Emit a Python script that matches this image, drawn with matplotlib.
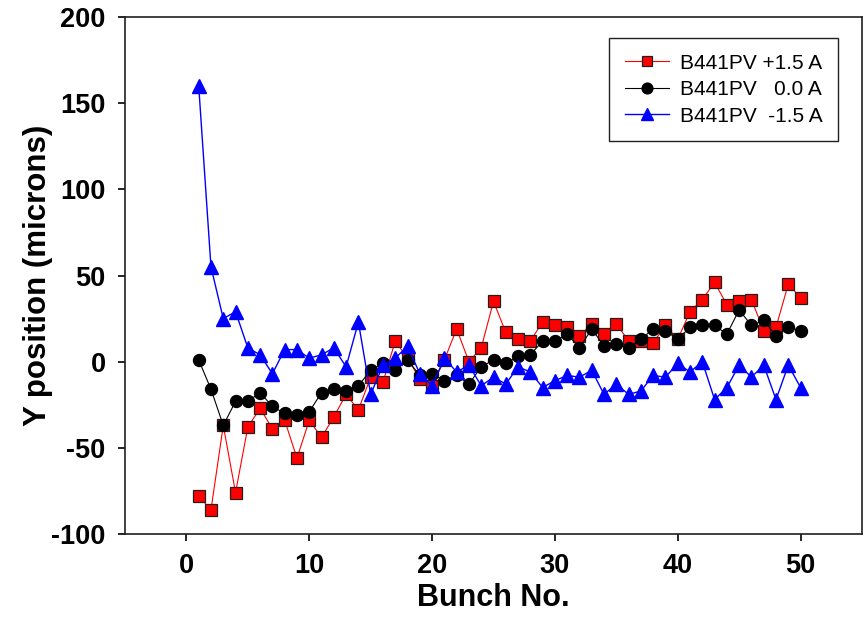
import matplotlib
matplotlib.use("Agg")
import matplotlib.pyplot as plt

# Bunch-by-bunch vertical position for three corrector settings
bunch = list(range(1, 51))

y_plus = [-78, -86, -37, -76, -38, -27, -39, -34, -56, -34,
          -44, -32, -19, -28, -9, -12, 12, 2, -10, -14,
          1, 19, 0, 8, 35, 17, 13, 12, 23, 21,
          20, 15, 22, 16, 22, 12, 12, 11, 21, 13,
          29, 36, 46, 33, 35, 36, 18, 20, 45, 37]

y_zero = [1, -16, -37, -23, -23, -18, -26, -30, -31, -29,
          -18, -16, -17, -14, -5, -1, -5, 1, -8, -7,
          -11, -8, -13, -3, 1, -1, 3, 4, 12, 12,
          16, 8, 19, 9, 10, 8, 13, 19, 18, 13,
          20, 21, 21, 16, 30, 21, 24, 15, 20, 18]

y_minus = [160, 55, 25, 29, 8, 4, -7, 7, 7, 2,
           4, 8, -3, 23, -19, -2, 2, 9, -7, -14,
           2, -6, -2, -14, -9, -13, -3, -6, -15, -11,
           -8, -9, -5, -19, -13, -19, -17, -8, -9, -1,
           -6, 0, -22, -15, -2, -9, -2, -22, -2, -15]

labels = ["B441PV +1.5 A", "B441PV   0.0 A", "B441PV  -1.5 A"]
x_ticks = [0, 10, 20, 30, 40, 50]
y_ticks = [-100, -50, 0, 50, 100, 150, 200]

plt.rcParams["font.family"] = ["Liberation Sans", "DejaVu Sans"]
plt.rcParams["axes.unicode_minus"] = False

fig = plt.figure(figsize=(8.64, 6.25), dpi=100)
ax = fig.add_axes([125 / 864, 1 - 534 / 625, 737 / 864, 517 / 625])

ax.plot(bunch, y_plus, color="#ff0000", lw=0.8, marker="s", ms=8.6,
        mfc="#ff0000", mec="#202020", mew=0.9, label=labels[0], zorder=3)
ax.plot(bunch, y_zero, color="black", lw=0.8, marker="o", ms=8.6,
        mfc="black", mec="black", label=labels[1], zorder=4)
ax.plot(bunch, y_minus, color="#0000ff", lw=1.0, marker="^", ms=9.5,
        mfc="#0000ff", mec="#0000ff", label=labels[2], zorder=5)

ax.set_xlim(-5, 55)
ax.set_ylim(-100, 200)
ax.set_xticks(x_ticks)
ax.set_yticks(y_ticks)

for s in ax.spines.values():
    s.set_linewidth(1.2)
    s.set_color("#202020")

ax.tick_params(direction="out", length=5, width=1.2, pad=9,
               labelsize=19.5, top=False, right=False)
for lab in ax.get_xticklabels() + ax.get_yticklabels():
    lab.set_fontweight("bold")

ax.set_xlabel("Bunch No.", fontsize=22, fontweight="bold")
ax.set_ylabel("Y position (microns)", fontsize=22.5, fontweight="bold")
ax.xaxis.set_label_coords(0.5, -0.095)
ax.yaxis.set_label_coords(-0.098, 0.5)

leg = ax.legend(loc="upper right", bbox_to_anchor=(838 / 864, 1 - 38 / 625),
                bbox_transform=fig.transFigure, borderaxespad=0,
                fontsize=15, frameon=True, fancybox=False, shadow=False,
                handlelength=2.15, handletextpad=0.5, labelspacing=0.36,
                borderpad=0.75, markerscale=0.9)
frame = leg.get_frame()
frame.set_edgecolor("#202020")
frame.set_linewidth(1.0)
frame.set_alpha(1)

fig.savefig("out.png", dpi=100, facecolor="white")
